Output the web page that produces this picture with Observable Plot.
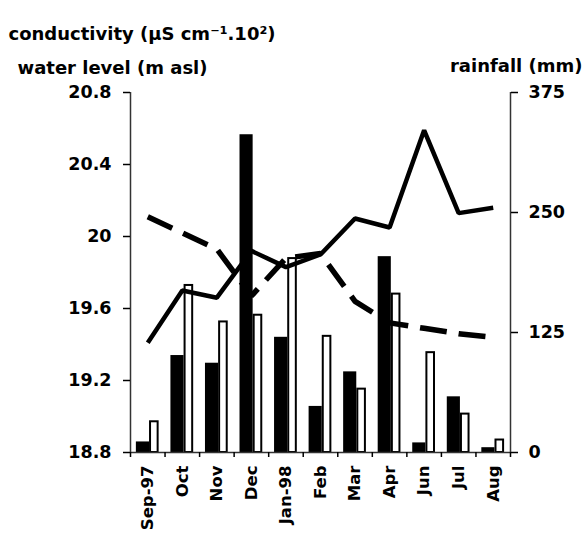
<!DOCTYPE html>
<html>
<head>
<meta charset="utf-8">
<script src="https://cdn.jsdelivr.net/npm/d3@7"></script>
<script src="https://cdn.jsdelivr.net/npm/@observablehq/plot@0.6"></script>
<style>
  html, body { margin: 0; padding: 0; background: #fff; }
</style>
</head>
<body>
<div id="chart"></div>
<script>
// Data
const months = ["Sep-97", "Oct", "Nov", "Dec", "Jan-98", "Feb", "Mar", "Apr", "Jun", "Jul", "Aug"];
const blackBars = [11, 101, 93, 331, 120, 48, 84, 204, 10, 58, 5];      // rainfall scale (mm)
const whiteBars = [32, 174, 136, 143, 202, 121, 66, 165, 104, 40, 13];  // rainfall scale (mm)
const solidLine = [19.41, 19.70, 19.66, 19.92, 19.83, 19.90, 20.10, 20.05, 20.59, 20.13, 20.16];
const dashedLine = [20.11, 20.02, 19.93, 19.67, 19.88, 19.905, 19.64, 19.52, 19.49, 19.46, 19.44];
const leftTicks = [18.8, 19.2, 19.6, 20, 20.4, 20.8];
const rainTicks = [0, 125, 250, 375];

const leftMin = 18.8, leftMax = 20.8, rainMax = 375;
const toY = r => leftMin + r / rainMax * (leftMax - leftMin);
const fromY = v => Math.round((v - leftMin) / (leftMax - leftMin) * rainMax);

const rows = months.map((m, i) => ({
  i, month: m, black: blackBars[i], white: whiteBars[i],
  solid: solidLine[i], dashed: dashedLine[i]
}));

const chart = Plot.plot({
  width: 584,
  height: 534,
  marginLeft: 130,
  marginRight: 74,
  marginTop: 92,
  marginBottom: 82,
  style: {fontFamily: "DejaVu Sans", fontWeight: "bold", fontSize: "17.5px", color: "black", background: "white"},
  x: {domain: [0, months.length], label: null},
  y: {domain: [leftMin, leftMax], label: null},
  marks: [
    Plot.rect(rows, {x1: d => d.i + 0.17, x2: d => d.i + 0.55, y1: leftMin, y2: d => toY(d.black), fill: "black"}),
    Plot.rect(rows, {x1: d => d.i + 0.58, x2: d => d.i + 0.80, y1: leftMin, y2: d => toY(d.white), fill: "white", stroke: "black", strokeWidth: 2}),
    Plot.ruleX([0, months.length], {y1: leftMin, y2: leftMax, stroke: "#333", strokeWidth: 1.5}),
    Plot.ruleY([leftMin], {stroke: "#333", strokeWidth: 1.5}),
    Plot.line(rows, {x: d => d.i + 0.5, y: "solid", stroke: "black", strokeWidth: 4.5, strokeLinejoin: "miter", strokeLinecap: "butt"}),
    Plot.line(rows, {x: d => d.i + 0.5, y: "dashed", stroke: "black", strokeWidth: 5.5, strokeDasharray: "27,12", strokeLinejoin: "miter", strokeLinecap: "butt"}),
    Plot.axisY(leftTicks, {anchor: "left", tickSize: 7, tickPadding: 12, strokeWidth: 1.5, tickFormat: d => String(d)}),
    Plot.axisY(rainTicks.map(toY), {anchor: "right", tickSize: 7, tickPadding: 11, strokeWidth: 1.5, tickFormat: d => String(fromY(d))}),
    Plot.axisX(d3.range(months.length + 1), {anchor: "bottom", tickSize: 5, strokeWidth: 1.5, tickFormat: () => ""}),
    Plot.axisX(months.map((m, i) => i + 0.5), {anchor: "bottom", tickSize: 0, tickPadding: 13, tickRotate: -90, fontSize: 16.5, tickFormat: d => months[Math.floor(d)]}),
    Plot.text(["conductivity (µS cm⁻¹.10²)"], {text: d => d, frameAnchor: "top-left", textAnchor: "start", dx: -122, dy: -65, fontSize: 18}),
    Plot.text(["water level (m asl)"], {text: d => d, frameAnchor: "top-left", textAnchor: "start", dx: -113, dy: -31, fontSize: 18}),
    Plot.text(["rainfall (mm)"], {text: d => d, frameAnchor: "top-right", textAnchor: "end", dx: 72, dy: -33, fontSize: 18})
  ]
});

document.getElementById("chart").appendChild(chart);
</script>
</body>
</html>
